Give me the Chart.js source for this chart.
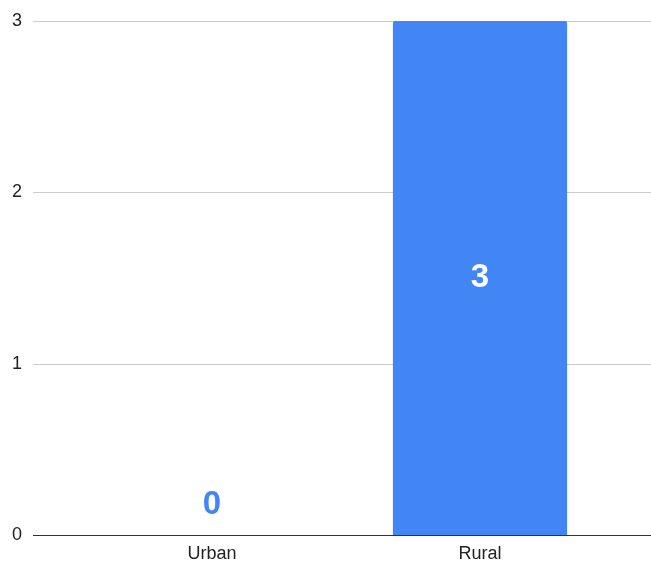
<!DOCTYPE html>
<html>
<head>
<meta charset="utf-8">
<script src="https://cdn.jsdelivr.net/npm/chart.js@4"></script>
<style>
  body { margin: 0; background: #fff; }
</style>
</head>
<body>
<canvas id="chart" width="651" height="565"></canvas>
<script>
const categories = ["Urban", "Rural"];
const counts = [0, 3];
const yTicks = [0, 1, 2, 3];

const FONT = '"Liberation Sans", Arial, sans-serif';

// google-sheets style gridlines that run past the bars, plus value labels
const sheetsLook = {
    id: 'sheetsLook',
    beforeDatasetsDraw(chart) {
        let ctx = chart.ctx;
        let y = chart.scales.y;
        ctx.save();
        for (let t of yTicks) {
            let py = Math.round(y.getPixelForValue(t)) + 0.5;
            ctx.strokeStyle = t === 0 ? '#333333' : '#cccccc';
            ctx.lineWidth = 1;
            ctx.beginPath();
            ctx.moveTo(33, py);
            ctx.lineTo(651, py);
            ctx.stroke();
        }
        ctx.restore();
    },
    afterDatasetsDraw(chart) {
        let ctx = chart.ctx;
        let meta = chart.getDatasetMeta(0);
        ctx.save();
        ctx.font = 'bold 33px ' + FONT;
        ctx.textAlign = 'center';
        ctx.textBaseline = 'middle';
        meta.data.forEach((bar, i) => {
            let v = counts[i];
            if (v === 0) {
                ctx.fillStyle = '#4285f4';
                ctx.fillText(String(v), bar.x, bar.y - 30);
            } else {
                ctx.fillStyle = '#ffffff';
                ctx.fillText(String(v), bar.x, (bar.y + bar.base) / 2);
            }
        });
        ctx.restore();
    }
};

new Chart(document.getElementById('chart'), {
    type: 'bar',
    data: {
        labels: categories,
        datasets: [{
            data: counts,
            backgroundColor: '#4285f4',
            borderRadius: {topLeft: 2, topRight: 2},
            borderSkipped: 'bottom',
            categoryPercentage: 1,
            barPercentage: 0.65
        }]
    },
    options: {
        responsive: false,
        animation: false,
        layout: {padding: {top: 21, right: 37, left: 12, bottom: 0}},
        plugins: {legend: {display: false}, tooltip: {enabled: false}},
        scales: {
            x: {
                grid: {display: false},
                border: {display: false},
                ticks: {
                    color: '#222',
                    font: {family: FONT, size: 18},
                    padding: 0
                },
                afterFit(axis) {
                    axis.height = 30;
                }
            },
            y: {
                min: 0,
                max: 3,
                afterBuildTicks(axis) {
                    axis.ticks = yTicks.map(v => ({value: v}));
                },
                afterFit(axis) {
                    axis.width = 66;
                },
                grid: {display: false},
                border: {display: false},
                ticks: {
                    color: '#222',
                    font: {family: FONT, size: 18},
                    crossAlign: 'far',
                    padding: 3
                }
            }
        }
    },
    plugins: [sheetsLook]
});
</script>
</body>
</html>
